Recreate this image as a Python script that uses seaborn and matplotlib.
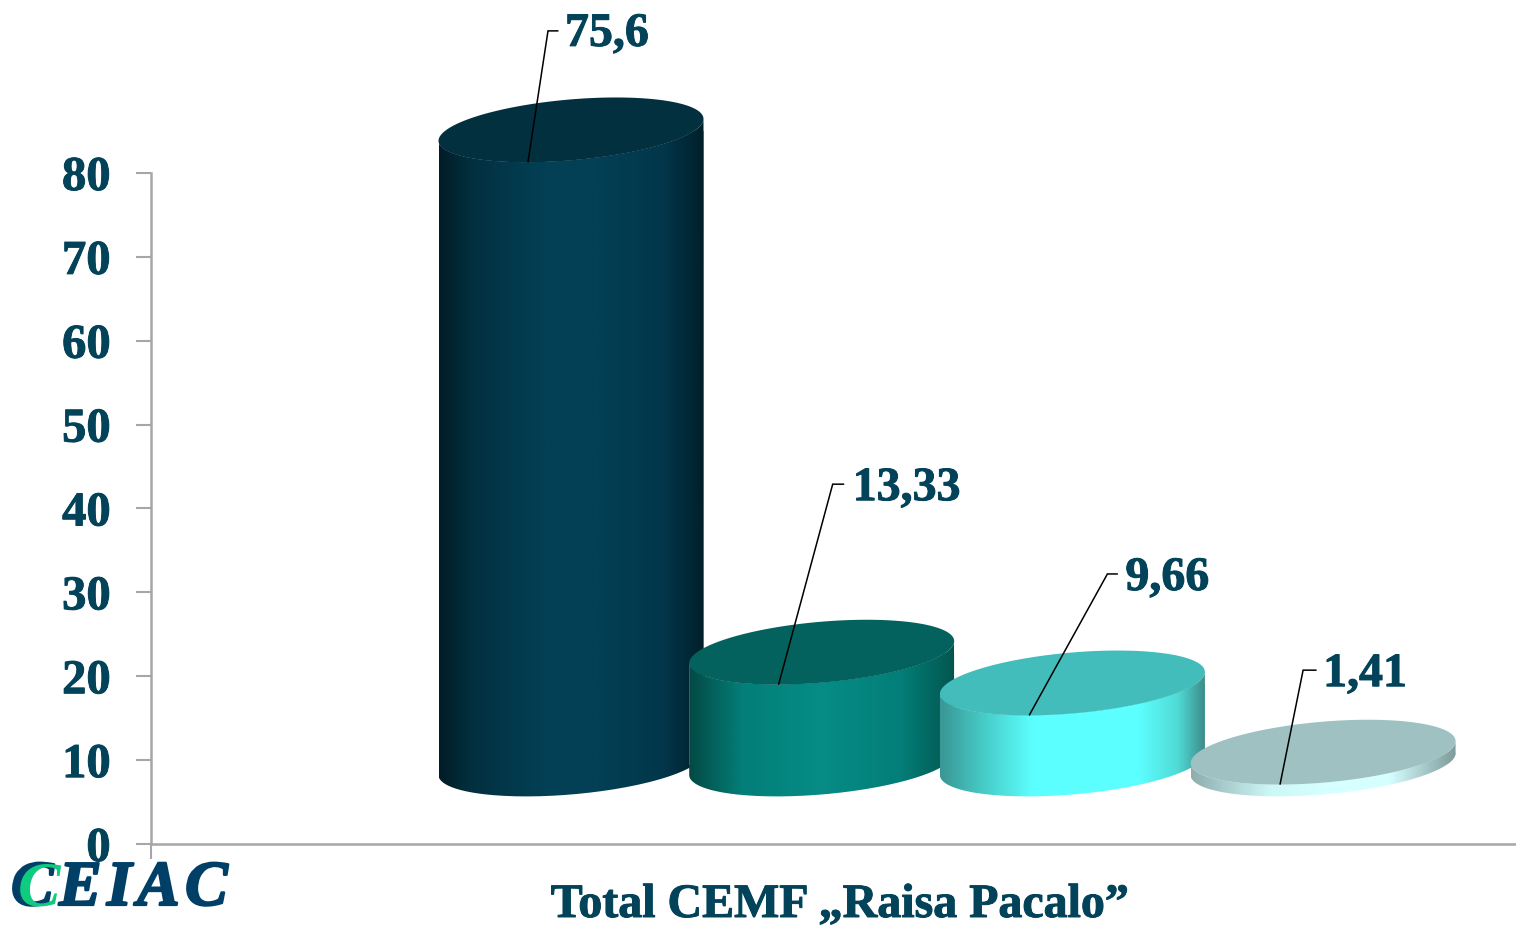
import numpy as np
import matplotlib
matplotlib.use("Agg")
import matplotlib.pyplot as plt
import matplotlib.patheffects as pe
import seaborn as sns
from matplotlib.colors import LinearSegmentedColormap
from matplotlib.patches import PathPatch
from matplotlib.path import Path
from matplotlib.transforms import IdentityTransform

# data
categories = ["A", "B", "C", "D"]
values = [75.6, 13.33, 9.66, 1.41]
value_labels = ["75,6", "13,33", "9,66", "1,41"]
y_ticks = [0, 10, 20, 30, 40, 50, 60, 70, 80]
title = "Total CEMF „Raisa Pacalo”"

# look of the cylinders
cap_colors = ["#03303F", "#04625E", "#43BDBB", "#9FC1C1"]
side_stops = [
    [(0, "#011C27"), (0.12, "#02303F"), (0.4, "#034055"), (0.6, "#034055"), (0.85, "#02364A"), (1, "#011F2A")],
    [(0, "#034A45"), (0.2, "#037E78"), (0.5, "#078C86"), (0.8, "#037E78"), (1, "#035650")],
    [(0, "#3A9695"), (0.15, "#45C8C3"), (0.35, "#5CFFFF"), (0.75, "#5CFFFF"), (0.9, "#50DAD5"), (1, "#3D8D8B")],
    [(0, "#8FADAD"), (0.3, "#CDF8F8"), (0.5, "#D6FFFF"), (0.75, "#D6FFFF"), (1, "#7F9A9A")],
]
base_lift = 9.54      # cylinders float above the axis, in y units
ellipse_b = 30.5      # px
ellipse_skew = 11     # px
anchor_dx = -43       # px, where the leader lines touch the cap

# leader line elbow, tail and text position, in px from the anchor
elbows = [(20, 131), (54, 200), (78, 141), (23, 114)]
tails = [10, 11, 10, 13]
text_offsets = [(37, 128), (74, 196), (96, 137), (43, 110)]

text_color = "#03435A"
axis_color = "#A6A6A6"
logo_color = "#003F66"
W, H = 1516, 925
first_x, step_x = 571, 250.7

sns.set_theme(style="white")
plt.rcParams["font.family"] = ["Liberation Serif", "DejaVu Serif"]
plt.rcParams["font.weight"] = "bold"
heavy = [pe.withStroke(linewidth=0.7, foreground=text_color)]

fig = plt.figure(figsize=(W / 100, H / 100), dpi=100, facecolor="white")
ax = fig.add_axes([151 / W, (H - 844) / H, (W - 151) / W, 671 / H])

sns.barplot(x=categories, y=values, hue=categories, palette=cap_colors, width=265 / step_x,
            saturation=1, legend=False, ax=ax)

x_limits = ((151 - first_x) / step_x, (W - first_x) / step_x)
ax.set_xlim(x_limits)
ax.set_ylim(0, 80)
ax.set_xlabel("")
ax.set_ylabel("")

ax.set_yticks(y_ticks)
ax.set_yticklabels([str(t) for t in y_ticks], fontsize=35, color=text_color, fontweight="bold", path_effects=heavy)
ax.set_xticks([x_limits[0]])
ax.set_xticklabels([""])
ax.tick_params(axis="both", length=10.5, width=1.5, color=axis_color, left=True, bottom=True)
ax.tick_params(axis="y", pad=18.5)
sns.despine(ax=ax)
for side in ["left", "bottom"]:
    ax.spines[side].set_color(axis_color)
    ax.spines[side].set_linewidth(1.8)
ax.set_facecolor("none")

px = IdentityTransform()
t_front = np.linspace(np.pi, 2 * np.pi, 100)
t_all = np.linspace(0, 2 * np.pi, 200)

bars = sorted(ax.patches, key=lambda b: b.get_x())
for i, bar in enumerate(bars):
    bar.set_y(base_lift)
    x0 = bar.get_x()
    w = bar.get_width()
    h = bar.get_height()
    left, y_low = ax.transData.transform((x0, base_lift))
    right, y_top = ax.transData.transform((x0 + w, base_lift + h))
    cx = (left + right) / 2
    a = (right - left) / 2

    def ring(t, cy):
        return np.column_stack([cx + a * np.cos(t), cy + ellipse_skew * np.cos(t) + ellipse_b * np.sin(t)])

    # side of the cylinder: front of the top edge, then back along the front of the bottom edge
    body = Path(np.vstack([ring(t_front, y_top), ring(t_front[::-1], y_low), ring(t_front[:1], y_top)]))
    z = 3 + i
    bar.set_zorder(z)
    bar.set_clip_box(fig.bbox)
    bar.set_clip_path(body, px)

    cmap = LinearSegmentedColormap.from_list("side%d" % i, side_stops[i], N=256)
    im = ax.imshow(np.linspace(0, 1, 256).reshape(1, -1), cmap=cmap, aspect="auto", vmin=0, vmax=1,
                   extent=(x0, x0 + w, 0, base_lift + h + 5), zorder=z + 0.1, interpolation="bilinear")
    im.set_clip_box(fig.bbox)
    im.set_clip_path(body, px)

    ax.add_patch(PathPatch(Path(ring(t_all, y_top)), fc=cap_colors[i], ec="none", transform=px,
                           clip_on=False, zorder=z + 0.2))

    # leader line and value
    start_x, start_y = cx + anchor_dx, y_top - 32
    ex, ey = elbows[i]
    ax.plot([start_x, start_x + ex, start_x + ex + tails[i]], [start_y, start_y + ey, start_y + ey],
            color="black", lw=1.1, transform=px, clip_on=False, zorder=20, solid_joinstyle="miter")
    dx, dy = text_offsets[i]
    ax.text(start_x + dx, start_y + dy, value_labels[i], transform=px, fontsize=34.5, fontweight="bold",
            color=text_color, ha="left", va="center", clip_on=False, zorder=21, path_effects=heavy)

ax.set_xlim(x_limits)
ax.set_ylim(0, 80)

fig.text(839.5 / W, (H - 905) / H, title, fontsize=34.5, fontweight="bold", color=text_color,
         ha="center", va="center", path_effects=heavy)

# logo
fig.text(11 / W, (H - 905) / H, "C\u200aE\u200aI\u200aA\u200aC", fontsize=46, fontweight="bold", fontstyle="italic",
         color=logo_color, ha="left", va="baseline",
         path_effects=[pe.withStroke(linewidth=1.6, foreground=logo_color)])
fig.text(18 / W, (H - 905) / H, "C", fontsize=46, fontweight="bold", fontstyle="italic",
         color="#0FCB7F", ha="left", va="baseline")

fig.savefig("out.png", dpi=100, facecolor="white")
